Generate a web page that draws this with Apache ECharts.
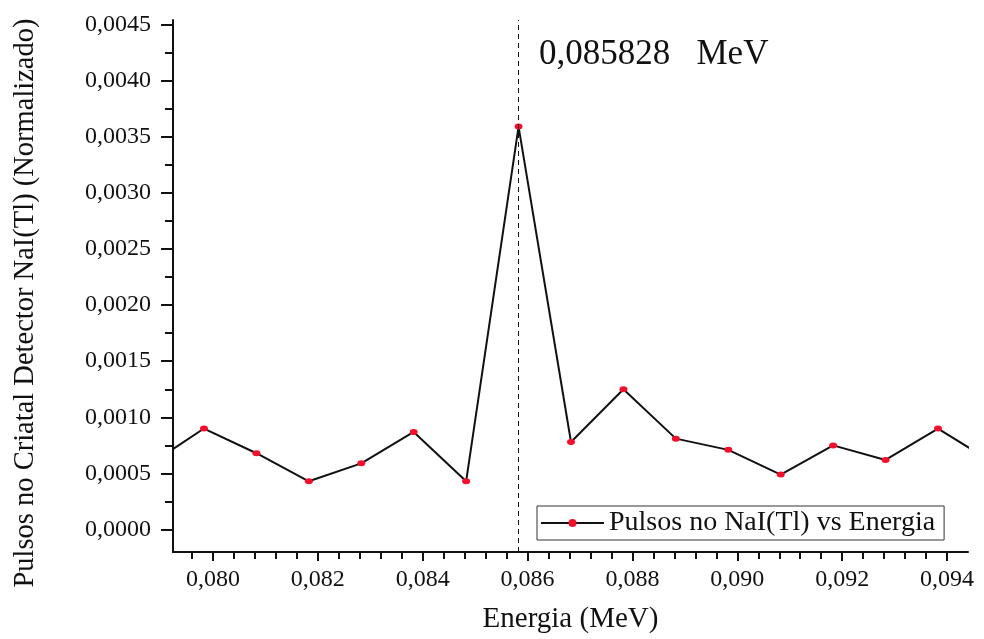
<!DOCTYPE html>
<html>
<head>
<meta charset="utf-8">
<script src="https://cdn.jsdelivr.net/npm/echarts@6/dist/echarts.min.js"></script>
<style>
  html, body { margin: 0; padding: 0; background: #ffffff; }
  #chart { width: 984px; height: 639px; }
</style>
</head>
<body>
<div id="chart"></div>
<script>
// Energy bins (MeV) and normalised pulse counts in the NaI(Tl) crystal
const energy = [0.078828, 0.079828, 0.080828, 0.081828, 0.082828, 0.083828, 0.084828,
  0.085828, 0.086828, 0.087828, 0.088828, 0.089828, 0.090828, 0.091828, 0.092828,
  0.093828, 0.094828];
const pulses = [0.00059, 0.00090, 0.00068, 0.00043, 0.00059, 0.00087, 0.00043,
  0.00359, 0.00078, 0.00125, 0.00081, 0.00071, 0.00049, 0.00075, 0.00062,
  0.00090, 0.00061];

const peakEnergy = 0.085828;
const peakText = '0,085828   MeV';

const xTicks = [0.080, 0.082, 0.084, 0.086, 0.088, 0.090, 0.092, 0.094];
const xMinorTicks = [0.0796, 0.0804, 0.0808, 0.0812, 0.0816, 0.0824, 0.0828, 0.0832, 0.0836,
  0.0844, 0.0848, 0.0852, 0.0856, 0.0864, 0.0868, 0.0872, 0.0876, 0.0884, 0.0888, 0.0892,
  0.0896, 0.0904, 0.0908, 0.0912, 0.0916, 0.0924, 0.0928, 0.0932, 0.0936];
const yTicks = [0, 0.0005, 0.0010, 0.0015, 0.0020, 0.0025, 0.0030, 0.0035, 0.0040, 0.0045];
const yMinorTicks = [0.00025, 0.00075, 0.00125, 0.00175, 0.00225, 0.00275, 0.00325, 0.00375, 0.00425];

const seriesName = 'Pulsos no NaI(Tl) vs Energia';
const xTitle = 'Energia (MeV)';
const yTitle = 'Pulsos no Criatal Detector NaI(Tl) (Normalizado)';

const xRange = [0.079237, 0.0944];
const yRange = [-0.0002, 0.00454];

const serif = 'Liberation Serif, Times New Roman, serif';
const ink = '#111111';
const comma = (v, d) => v.toFixed(d).replace('.', ',');

const gridTop = 20, gridBottom = 86, chartH = 639;
const plotH = chartH - gridTop - gridBottom;

const chart = echarts.init(document.getElementById('chart'), null, { renderer: 'canvas' });

const axisLine = { show: true, onZero: false, lineStyle: { color: ink, width: 2 } };
const hiddenLine = { show: false, onZero: false };

chart.setOption({
  backgroundColor: '#ffffff',
  animation: false,
  grid: { left: 173, right: 16, top: gridTop, bottom: gridBottom, containLabel: false },
  xAxis: [{
    type: 'value',
    min: xRange[0], max: xRange[1],
    position: 'bottom',
    name: xTitle,
    nameLocation: 'middle',
    nameGap: 53,
    nameTextStyle: { fontFamily: serif, fontSize: 29, color: ink },
    axisLine: axisLine,
    axisTick: { show: true, inside: false, length: 9, customValues: xTicks,
      lineStyle: { color: ink, width: 2 } },
    axisLabel: { show: true, margin: 16, customValues: xTicks,
      fontFamily: serif, fontSize: 24, color: ink,
      formatter: v => comma(v, 3) },
    splitLine: { show: false }
  }, {
    // minor ticks: a top-side axis shifted down onto the bottom edge, ticks pointing down
    type: 'value',
    min: xRange[0], max: xRange[1],
    position: 'top',
    offset: -plotH,
    axisLine: hiddenLine,
    axisTick: { show: true, inside: true, length: 6, customValues: xMinorTicks,
      lineStyle: { color: ink, width: 2 } },
    axisLabel: { show: false },
    splitLine: { show: false }
  }],
  yAxis: [{
    type: 'value',
    min: yRange[0], max: yRange[1],
    position: 'left',
    axisLine: axisLine,
    axisTick: { show: true, inside: false, length: 12, customValues: yTicks,
      lineStyle: { color: ink, width: 2 } },
    axisLabel: { show: true, margin: 22, customValues: yTicks,
      fontFamily: serif, fontSize: 24, color: ink,
      formatter: v => comma(v, 4) },
    splitLine: { show: false }
  }, {
    type: 'value',
    min: yRange[0], max: yRange[1],
    position: 'left',
    axisLine: hiddenLine,
    axisTick: { show: true, inside: false, length: 8, customValues: yMinorTicks,
      lineStyle: { color: ink, width: 2 } },
    axisLabel: { show: false },
    splitLine: { show: false }
  }],
  legend: {
    show: true,
    left: 537, top: 506,
    orient: 'horizontal',
    backgroundColor: '#ffffff',
    borderColor: '#333333', borderWidth: 1,
    padding: [3, 9, 3, 3],
    itemWidth: 63, itemHeight: 10, itemGap: 6,
    textStyle: { fontFamily: serif, fontSize: 28, color: ink, lineHeight: 26 },
    data: [seriesName]
  },
  graphic: [{
    type: 'text',
    left: 539, top: 37,
    style: { text: peakText, font: '35px ' + serif, fill: ink }
  }, {
    type: 'text',
    x: 26, y: 303,
    rotation: Math.PI / 2,
    style: { text: yTitle, font: '28.5px ' + serif, fill: ink,
      align: 'center', verticalAlign: 'middle' }
  }],
  series: [{
    name: seriesName,
    type: 'line',
    xAxisIndex: 0, yAxisIndex: 0,
    data: energy.map((e, i) => [e, pulses[i]]),
    clip: true,
    symbol: 'circle',
    symbolSize: [8, 6],
    showAllSymbol: true,
    lineStyle: { color: ink, width: 2 },
    itemStyle: { color: '#f4102c' },
    markLine: {
      silent: true,
      precision: 6,
      symbol: ['none', 'none'],
      label: { show: false },
      lineStyle: { color: ink, width: 1, type: [5, 4] },
      data: [{ xAxis: peakEnergy }]
    }
  }]
});
</script>
</body>
</html>
